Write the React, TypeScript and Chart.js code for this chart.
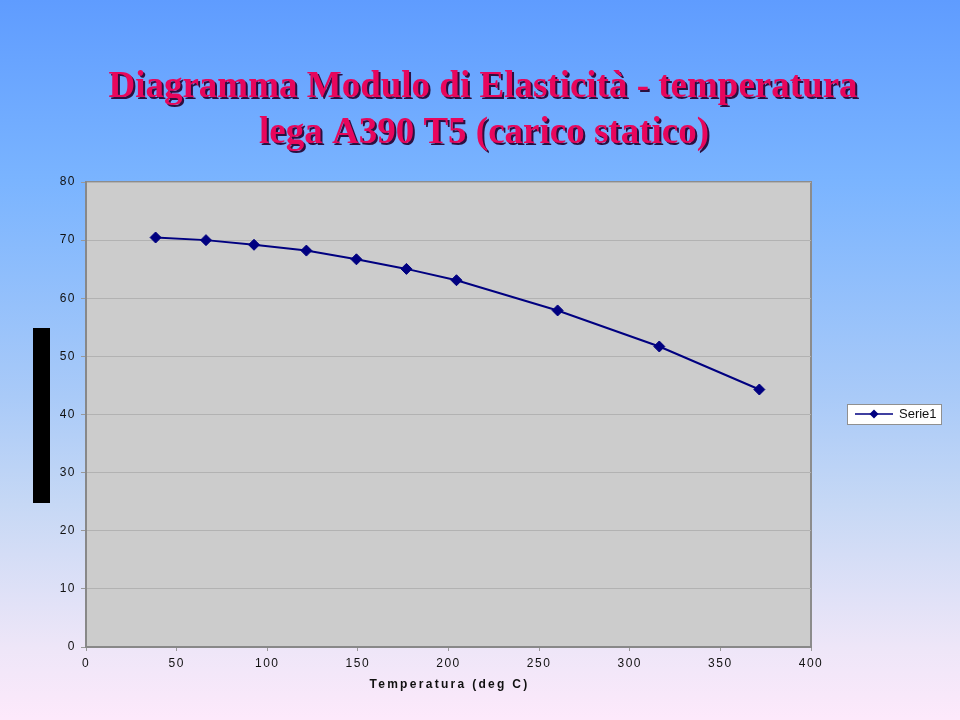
import React, { useEffect, useRef } from "react";
import { Chart, registerables } from "chart.js";

Chart.register(...registerables);

const titleLines = ["Diagramma Modulo di Elasticità - temperatura", "lega A390 T5 (carico statico)"];
const xAxisTitle = "Temperatura (deg C)";
const seriesName = "Serie1";
const temperatures = [38.4, 66.2, 92.7, 121.6, 149.2, 176.8, 204.4, 260.2, 316.3, 371.5];
const modulus = [70.45, 70.0, 69.2, 68.2, 66.7, 65.05, 63.1, 57.9, 51.7, 44.3];
const xTicks = [0, 50, 100, 150, 200, 250, 300, 350, 400];
const yTicks = [0, 10, 20, 30, 40, 50, 60, 70, 80];

const NAVY = "#000080";

const decorPlugin = {
  id: "decor",
  beforeDraw(chart: any) {
    const { ctx, width, height, chartArea } = chart;
    ctx.save();
    const g = ctx.createLinearGradient(0, 0, 0, height);
    g.addColorStop(0, "#5F9CFF");
    g.addColorStop(0.25, "#7AB4FF");
    g.addColorStop(0.55, "#A9CAF8");
    g.addColorStop(0.7, "#C6D8F5");
    g.addColorStop(0.9, "#EEE6F8");
    g.addColorStop(1, "#FDE9FB");
    ctx.fillStyle = g;
    ctx.fillRect(0, 0, width, height);
    ctx.fillStyle = "#CCCCCC";
    ctx.fillRect(chartArea.left, chartArea.top, chartArea.right - chartArea.left, chartArea.bottom - chartArea.top);
    ctx.strokeStyle = "#8C8C8C";
    ctx.lineWidth = 2;
    ctx.beginPath();
    ctx.moveTo(chartArea.left, chartArea.top);
    ctx.lineTo(chartArea.right, chartArea.top);
    ctx.lineTo(chartArea.right, chartArea.bottom);
    ctx.stroke();
    ctx.fillStyle = "#000000";
    ctx.fillRect(33, 328, 17, 175);
    ctx.restore();
    (ctx as any).letterSpacing = "1.5px";
  },
  afterDraw(chart: any) {
    const { ctx, chartArea } = chart;
    (ctx as any).letterSpacing = "0px";
    ctx.save();
    ctx.font = "bold 37px 'Liberation Serif', 'Times New Roman', serif";
    ctx.textAlign = "center";
    ctx.textBaseline = "alphabetic";
    ctx.shadowColor = "#2A1040";
    ctx.shadowOffsetX = 2;
    ctx.shadowOffsetY = 2;
    ctx.shadowBlur = 0;
    ctx.fillStyle = "#E8065C";
    ctx.fillText(titleLines[0], 483, 97);
    ctx.fillText(titleLines[1], 484, 143);
    ctx.restore();

    ctx.save();
    ctx.font = "bold 12px 'Liberation Sans', Arial, sans-serif";
    (ctx as any).letterSpacing = "2.3px";
    ctx.fillStyle = "#111111";
    ctx.textAlign = "center";
    ctx.textBaseline = "middle";
    ctx.fillText(xAxisTitle, (chartArea.left + chartArea.right) / 2 + 1, 685);
    ctx.restore();
    (ctx as any).letterSpacing = "0px";

    ctx.save();
    ctx.fillStyle = "#FFFFFF";
    ctx.fillRect(847, 404, 94, 20);
    ctx.strokeStyle = "#909090";
    ctx.lineWidth = 1;
    ctx.strokeRect(847.5, 404.5, 94, 20);
    ctx.strokeStyle = NAVY;
    ctx.lineWidth = 1.5;
    ctx.beginPath();
    ctx.moveTo(855, 414);
    ctx.lineTo(893, 414);
    ctx.stroke();
    ctx.fillStyle = NAVY;
    ctx.beginPath();
    ctx.moveTo(874, 409.5);
    ctx.lineTo(878.5, 414);
    ctx.lineTo(874, 418.5);
    ctx.lineTo(869.5, 414);
    ctx.closePath();
    ctx.fill();
    ctx.font = "13px 'Liberation Sans', Arial, sans-serif";
    ctx.fillStyle = "#111111";
    ctx.textAlign = "left";
    ctx.textBaseline = "middle";
    ctx.fillText(chart.data.datasets[0].label, 899, 414);
    ctx.restore();
  },
};

export default function App() {
  const ref = useRef<HTMLCanvasElement>(null);

  useEffect(() => {
    document.body.style.margin = "0";
    const canvas = ref.current;
    if (!canvas) return;
    const chart = new Chart(canvas, {
      type: "line",
      data: {
        datasets: [
          {
            label: seriesName,
            data: temperatures.map((t, i) => ({ x: t, y: modulus[i] })),
            borderColor: NAVY,
            backgroundColor: NAVY,
            borderWidth: 2,
            pointStyle: "rectRot",
            pointRadius: 5.5,
            pointBackgroundColor: NAVY,
            pointBorderColor: NAVY,
            pointBorderWidth: 1,
            tension: 0,
            fill: false,
          },
        ],
      },
      options: {
        animation: false,
        responsive: false,
        devicePixelRatio: 1,
        layout: { padding: { top: 182, right: 149, left: 0, bottom: 0 } },
        plugins: {
          legend: { display: false },
          title: { display: false },
          tooltip: { enabled: false },
        },
        scales: {
          x: {
            type: "linear",
            min: 0,
            max: 400,
            afterFit: (s: any) => {
              s.height = 73;
            },
            afterBuildTicks: (s: any) => {
              s.ticks = xTicks.map((v) => ({ value: v }));
            },
            ticks: {
              color: "#111111",
              font: { family: "'Liberation Sans', Arial, sans-serif", size: 12 },
              padding: 5,
              maxRotation: 0,
              autoSkip: false,
            },
            grid: {
              drawOnChartArea: false,
              drawTicks: true,
              tickLength: 4,
              tickColor: "#999999",
            },
            border: { color: "#888888", width: 2 },
          },
          y: {
            min: 0,
            max: 80,
            afterFit: (s: any) => {
              s.width = 86;
            },
            afterBuildTicks: (s: any) => {
              s.ticks = yTicks.map((v) => ({ value: v }));
            },
            ticks: {
              color: "#111111",
              font: { family: "'Liberation Sans', Arial, sans-serif", size: 12 },
              padding: 5,
              autoSkip: false,
            },
            grid: {
              color: "#B2B2B2",
              lineWidth: 1,
              tickLength: 5,
              tickColor: "#999999",
            },
            border: { color: "#888888", width: 2 },
          },
        },
      },
      plugins: [decorPlugin],
    });
    return () => chart.destroy();
  }, []);

  return (
    <div style={{ position: "fixed", left: 0, top: 0, width: 960, height: 720 }}>
      <canvas ref={ref} width={960} height={720} style={{ display: "block", width: 960, height: 720 }} />
    </div>
  );
}
